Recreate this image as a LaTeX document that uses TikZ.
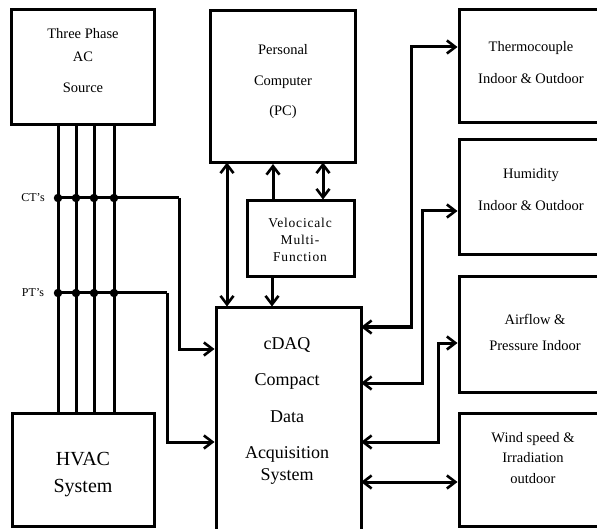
\documentclass[tikz,border=0pt]{standalone}
\usepackage{fontspec}
\setmainfont{Liberation Serif}
\usetikzlibrary{arrows.meta}
\tikzset{
  blk/.style={draw, line width=3pt, inner sep=0pt},
  wire/.style={line width=3pt},
  tipa/.tip={Straight Barb[length=8.5pt,width=13pt,line width=2.6pt]},
  arr/.style={wire, -tipa},
  darr/.style={wire, tipa-tipa},
  txt/.style={font=\fontsize{14.5}{16}\selectfont, inner sep=0pt, anchor=base},
  vtxt/.style={font=\fontsize{13.5}{15}\selectfont\addfontfeature{LetterSpace=6}, inner sep=0pt, anchor=base},
  dot/.style={circle, fill=black, inner sep=0pt, minimum size=8.5pt},
}
\begin{document}
\begin{tikzpicture}[x=1pt,y=-1pt]
\useasboundingbox (0,0) rectangle (597,529);
\clip (0,0) rectangle (597,529);
% boxes
\node[blk, minimum width=143pt, minimum height=115pt] (src) at (82.5,67.5) {};
\node[blk, minimum width=142pt, minimum height=113pt] (hvac) at (83,469.5) {};
\node[blk, minimum width=145pt, minimum height=152pt] (pc) at (283,86.5) {};
\node[blk, minimum width=107pt, minimum height=76pt] (vel) at (300.5,239) {};
\node[blk, minimum width=145pt, minimum height=240pt] (daq) at (288.5,428) {};
\node[blk, minimum width=150pt, minimum height=113pt] (tc) at (534,66.5) {};
\node[blk, minimum width=150pt, minimum height=115pt] (hum) at (534,197.5) {};
\node[blk, minimum width=150pt, minimum height=115pt] (air) at (534,334.5) {};
\node[blk, minimum width=150pt, minimum height=113pt] (wind) at (534,469.5) {};
% texts
\node[txt] (t1) at (83,39) {Three Phase};
\node[txt] (t2) at (83,62) {AC};
\node[txt] (t3) at (83,93) {Source};
\node[txt, font=\fontsize{20}{22}\selectfont] (t4) at (83,465) {HVAC};
\node[txt, font=\fontsize{20}{22}\selectfont] (t5) at (83,492) {System};
\node[txt] (t6) at (283,55) {Personal};
\node[txt] (t7) at (283,86) {Computer};
\node[txt] (t8) at (283,116) {(PC)};
\node[vtxt] (t9) at (300,228) {Velocicalc};
\node[vtxt] (t10) at (300,245) {Multi-};
\node[vtxt] (t11) at (300,262) {Function};
\node[txt, font=\fontsize{18}{20}\selectfont] (t12) at (287,349) {cDAQ};
\node[txt, font=\fontsize{18}{20}\selectfont] (t13) at (287,385) {Compact};
\node[txt, font=\fontsize{18}{20}\selectfont] (t14) at (287,422) {Data};
\node[txt, font=\fontsize{18}{20}\selectfont] (t15) at (287,458) {Acquisition};
\node[txt, font=\fontsize{18}{20}\selectfont] (t16) at (287,480) {System};
\node[txt] (t17) at (531,52) {Thermocouple};
\node[txt] (t18) at (531,84) {Indoor \& Outdoor};
\node[txt] (t19) at (531,179) {Humidity};
\node[txt] (t20) at (531,211) {Indoor \& Outdoor};
\node[txt] (t21) at (535,324) {Airflow \&};
\node[txt] (t22) at (535,350) {Pressure Indoor};
\node[txt] (t23) at (533,442) {Wind speed \&};
\node[txt] (t24) at (533,462) {Irradiation};
\node[txt] (t25) at (533,483) {outdoor};
\node[txt, font=\fontsize{12}{14}\selectfont] (ct) at (33,202) {CT's};
\node[txt, font=\fontsize{12}{14}\selectfont] (pt) at (33,297) {PT's};
% phase lines
\foreach \x [count=\i] in {58,76,94,114} {
  \coordinate (a\i) at (\x,124);
  \coordinate (b\i) at (\x,414);
  \draw[wire] (a\i) -- (b\i);
  \node[dot] (c\i) at (\x,198) {};
  \node[dot] (p\i) at (\x,293) {};
}
\coordinate (ctk) at (179,198);
\coordinate (ctd) at (179,349);
\coordinate (ptk) at (167,293);
\coordinate (ptd) at (167,442);
\draw[wire] (c1.center) -- (ctk);
\draw[arr] (ctk) -- (ctd) -- (ctd -| daq.west);
\draw[wire] (p1.center) -- (ptk);
\draw[arr] (ptk) -- (ptd) -- (ptd -| daq.west);
% PC / Velocicalc / cDAQ
\draw[darr] (227,162.5) coordinate (x1) -- (x1 |- daq.north);
\draw[arr] (273,201) coordinate (x2) -- (x2 |- pc.south);
\draw[darr] (323,162.5) coordinate (x3) -- (x3 |- vel.north);
\draw[arr] (272,277) coordinate (x4) -- (x4 |- daq.north);
% right side
\coordinate (r1a) at (361,327); \coordinate (r1b) at (411,327); \coordinate (r1c) at (411,47);
\draw[darr] (r1a) -- (r1b) -- (r1c) -- (r1c -| tc.west);
\coordinate (r2a) at (361,383); \coordinate (r2b) at (422,383); \coordinate (r2c) at (422,211);
\draw[darr] (r2a) -- (r2b) -- (r2c) -- (r2c -| hum.west);
\coordinate (r3a) at (361,442); \coordinate (r3b) at (438,442); \coordinate (r3c) at (438,343);
\draw[darr] (r3a) -- (r3b) -- (r3c) -- (r3c -| air.west);
\coordinate (r4a) at (361,482);
\draw[darr] (r4a) -- (r4a -| wind.west);
\end{tikzpicture}
\end{document}
